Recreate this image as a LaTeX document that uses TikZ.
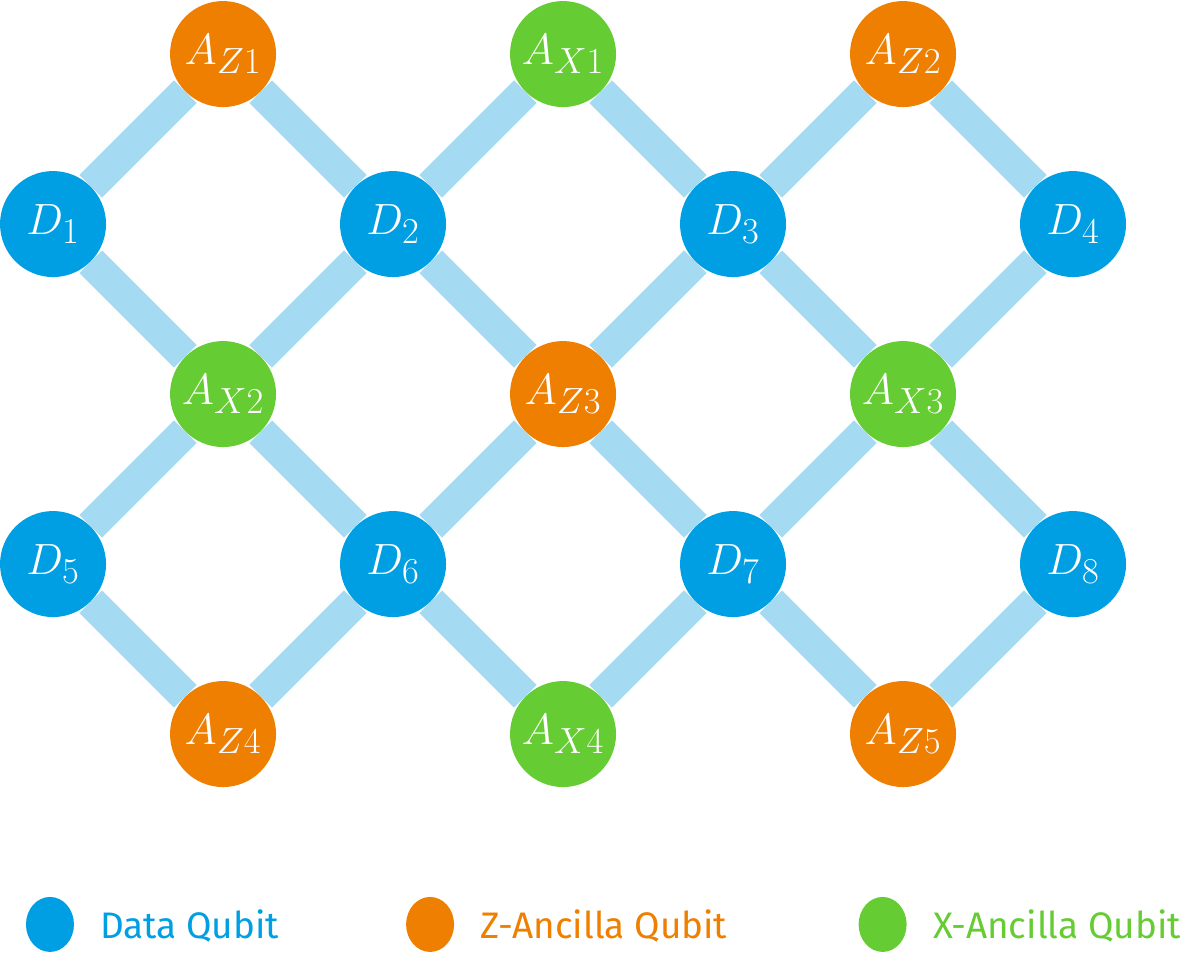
\documentclass[tikz,border=0pt]{standalone}
\usepackage{fontspec}
\setsansfont{Fira Sans}
\usepackage{tikz}
\usetikzlibrary{shapes.geometric}
\pgfdeclarelayer{bg}
\pgfsetlayers{bg,main}
\definecolor{dataBlue}{HTML}{009FE3}
\definecolor{zOrange}{HTML}{EE7F00}
\definecolor{xGreen}{HTML}{66CC33}
\definecolor{linkBlue}{HTML}{A5DAF3}
\tikzset{
	qubit/.style={circle, minimum size=2.12cm, inner sep=0pt, text=white, font=\fontsize{29}{32}\selectfont},
	dataq/.style={qubit, fill=dataBlue},
	zanc/.style={qubit, fill=zOrange},
	xanc/.style={qubit, fill=xGreen},
	link/.style={linkBlue, line width=0.64cm},
	legdot/.style={ellipse, minimum width=0.96cm, minimum height=1.1cm, inner sep=0pt},
	legtext/.style={anchor=west, font=\sffamily\fontsize{21}{24}\selectfont}
}

\begin{document}
\begin{tikzpicture}[x=3.4cm, y=-3.4cm]
		\useasboundingbox (-0.312,-0.318) rectangle (6.647,5.294);

		% Data qubits
		\node[dataq] (D1) at (0,1) {$D_1$};
		\node[dataq] (D2) at (2,1) {$D_2$};
		\node[dataq] (D3) at (4,1) {$D_3$};
		\node[dataq] (D4) at (6,1) {$D_4$};
		\node[dataq] (D5) at (0,3) {$D_5$};
		\node[dataq] (D6) at (2,3) {$D_6$};
		\node[dataq] (D7) at (4,3) {$D_7$};
		\node[dataq] (D8) at (6,3) {$D_8$};

		% Ancilla qubits
		\node[zanc] (AZ1) at (1,0) {$A_{Z1}$};
		\node[xanc] (AX1) at (3,0) {$A_{X1}$};
		\node[zanc] (AZ2) at (5,0) {$A_{Z2}$};
		\node[xanc] (AX2) at (1,2) {$A_{X2}$};
		\node[zanc] (AZ3) at (3,2) {$A_{Z3}$};
		\node[xanc] (AX3) at (5,2) {$A_{X3}$};
		\node[zanc] (AZ4) at (1,4) {$A_{Z4}$};
		\node[xanc] (AX4) at (3,4) {$A_{X4}$};
		\node[zanc] (AZ5) at (5,4) {$A_{Z5}$};

		% -----------------------------------------------------
		% Couplings (drawn behind the qubits)
		\begin{pgfonlayer}{bg}
			\draw[link] (AZ1) -- (D1);  \draw[link] (AZ1) -- (D2);
			\draw[link] (AX1) -- (D2);  \draw[link] (AX1) -- (D3);
			\draw[link] (AZ2) -- (D3);  \draw[link] (AZ2) -- (D4);

			\draw[link] (AX2) -- (D1);  \draw[link] (AX2) -- (D2);
			\draw[link] (AX2) -- (D5);  \draw[link] (AX2) -- (D6);
			\draw[link] (AZ3) -- (D2);  \draw[link] (AZ3) -- (D3);
			\draw[link] (AZ3) -- (D6);  \draw[link] (AZ3) -- (D7);
			\draw[link] (AX3) -- (D3);  \draw[link] (AX3) -- (D4);
			\draw[link] (AX3) -- (D7);  \draw[link] (AX3) -- (D8);

			\draw[link] (AZ4) -- (D5);  \draw[link] (AZ4) -- (D6);
			\draw[link] (AX4) -- (D6);  \draw[link] (AX4) -- (D7);
			\draw[link] (AZ5) -- (D7);  \draw[link] (AZ5) -- (D8);
		\end{pgfonlayer}

		% -----------------------------------------------------
		% Legend
		\node[legdot, fill=dataBlue] (legD) at (-0.018,5.12) {};
		\node[legtext, text=dataBlue] (legDt) at (0.24,5.13) {Data Qubit};
		\node[legdot, fill=zOrange] (legZ) at (2.218,5.12) {};
		\node[legtext, text=zOrange] (legZt) at (2.48,5.13) {Z-Ancilla Qubit};
		\node[legdot, fill=xGreen] (legX) at (4.88,5.12) {};
		\node[legtext, text=xGreen] (legXt) at (5.14,5.13) {X-Ancilla Qubit};

\end{tikzpicture}
\end{document}
